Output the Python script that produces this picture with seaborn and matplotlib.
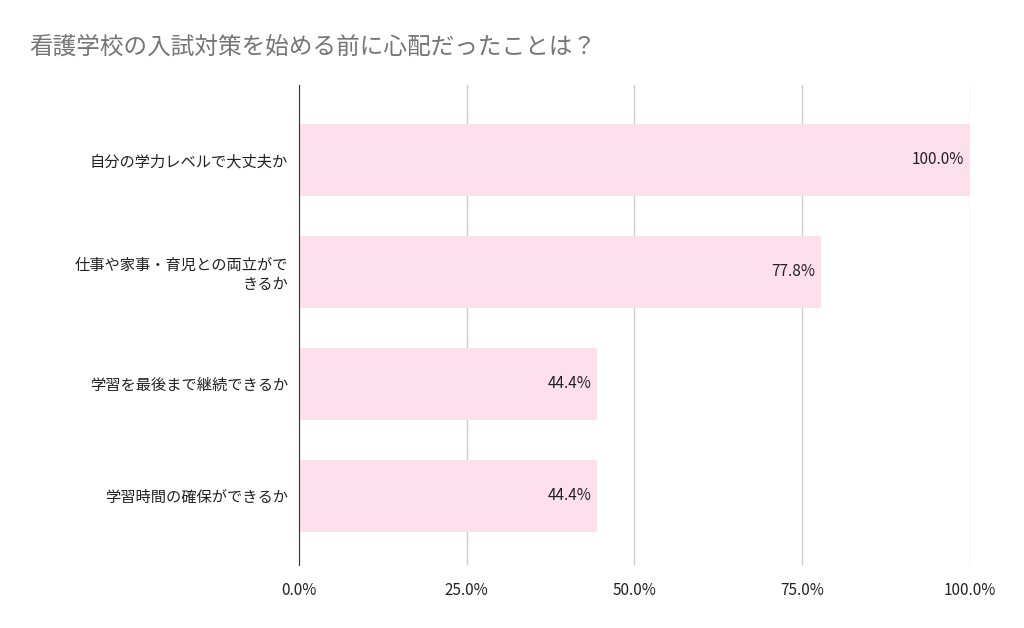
import matplotlib
matplotlib.use("Agg")
import matplotlib.pyplot as plt
import seaborn as sns
import pandas as pd

plt.rcParams['font.family'] = 'Noto Sans CJK JP'

categories = ["自分の学力レベルで大丈夫か",
              "仕事や家事・育児との両立がで\nきるか",
              "学習を最後まで継続できるか",
              "学習時間の確保ができるか"]
values = [100.0, 77.8, 44.4, 44.4]
ticks = [0, 25, 50, 75, 100]
tick_labels = ["0.0%", "25.0%", "50.0%", "75.0%", "100.0%"]

df = pd.DataFrame({'cat': categories, 'val': values})

fig = plt.figure(figsize=(10.24, 6.28), dpi=100)
ax = fig.add_axes([0.292, 0.100, 0.655, 0.765])

sns.barplot(data=df, x='val', y='cat', color='#fde0ec', saturation=1, width=0.64, ax=ax)

for i, v in enumerate(values):
    ax.text(v - 0.8, i, f"{v:.1f}%", ha='right', va='center', fontsize=11, color='#222222')

ax.set_xlim(0, 100)
ax.set_ylim(3.62, -0.67)
ax.set_xticks(ticks)
ax.set_xticklabels(tick_labels, fontsize=11, color='#222222')
ax.tick_params(axis='y', labelsize=11, length=0, pad=8, colors='#222222')
ax.tick_params(axis='x', length=0, pad=12)
for lbl in ax.get_yticklabels():
    lbl.set_horizontalalignment('right')
ax.set_xlabel('')
ax.set_ylabel('')
ax.grid(axis='x', color='#cccccc', linewidth=1)
ax.set_axisbelow(True)
for s in ['top', 'right', 'bottom']:
    ax.spines[s].set_visible(False)
ax.spines['left'].set_color('#333333')

fig.text(0.029, 0.925, "看護学校の入試対策を始める前に心配だったことは？", fontsize=17, color='#757575', va='center')

fig.savefig('out.png', dpi=100)
